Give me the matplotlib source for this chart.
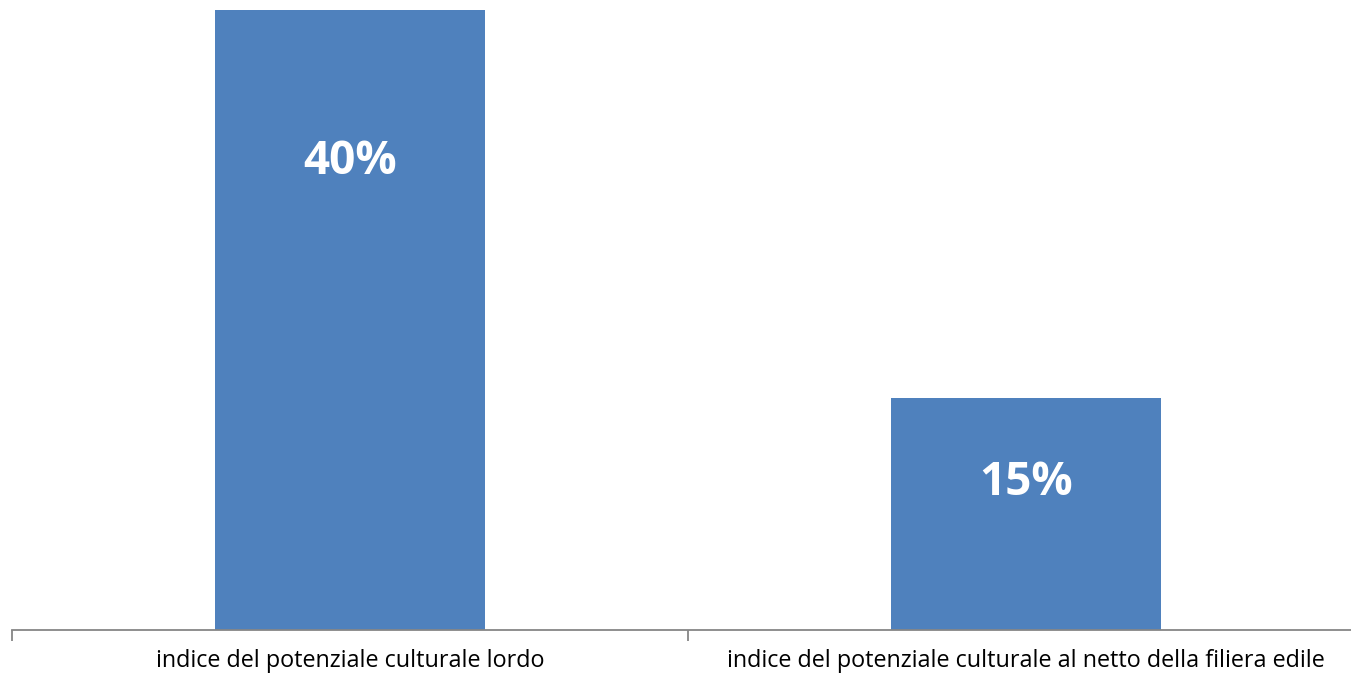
import matplotlib.pyplot as plt
import numpy as np

categorie = ['indice del potenziale culturale lordo',
             'indice del potenziale culturale al netto della filiera edile']
valori = [40, 15]
etichette = ['40%', '15%']
pos_etichette = [30.2, 9.5]

fig = plt.figure(figsize=(13.51, 6.77), dpi=100)
W, H = 1351, 677
# axes region in pixels: x 12..1364, y 10..630
ax = fig.add_axes([12 / W, (H - 630) / H, 1352 / W, 620 / H])

x = np.arange(len(categorie))
ax.bar(x, valori, width=0.4, color='#4F81BD', zorder=2)
for xi, yi, t in zip(x, pos_etichette, etichette):
    ax.text(xi, yi, t, ha='center', va='center', color='white',
            fontsize=33, fontweight='bold', family='Open Sans')

ax.set_xlim(-0.5, 1.5)
ax.set_ylim(0, 40)
ax.set_yticks([])
for s in ['top', 'right', 'left']:
    ax.spines[s].set_visible(False)
ax.spines['bottom'].set_color('#868686')
ax.spines['bottom'].set_linewidth(1.3)

ax.set_xticks([-0.5, 0.5, 1.5])
ax.set_xticklabels([])
ax.set_xticks(x, minor=True)
ax.set_xticklabels(categorie, minor=True, fontsize=16.8, family='Open Sans')
ax.tick_params(axis='x', which='major', length=8, width=1.3, color='#868686')
ax.tick_params(axis='x', which='minor', length=0, pad=14)

fig.savefig('out.png', dpi=100)
